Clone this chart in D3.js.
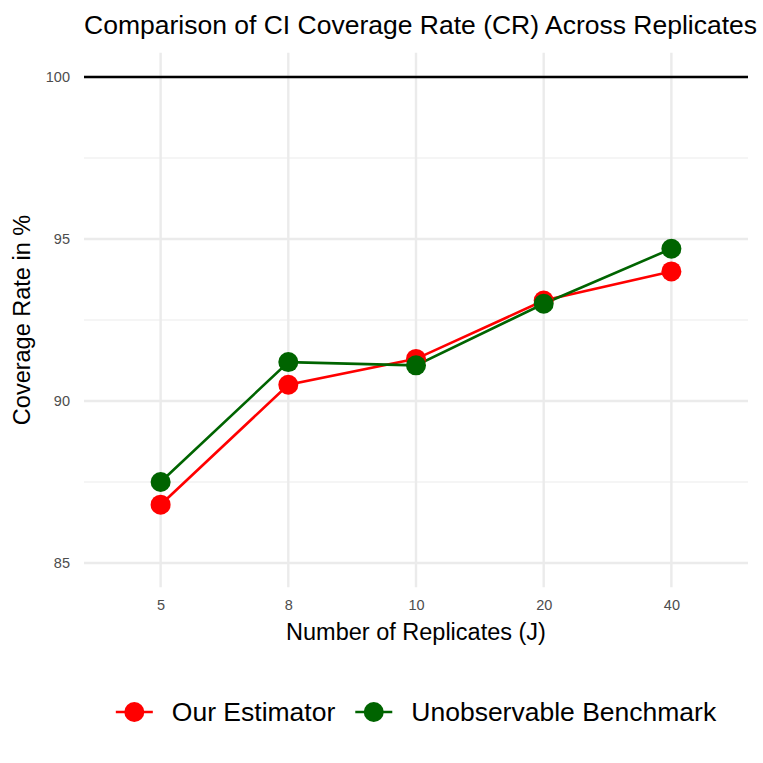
<!DOCTYPE html>
<html>
<head>
<meta charset="utf-8">
<script src="https://cdn.jsdelivr.net/npm/d3@7"></script>
<style>
  body { margin: 0; background: #fff; }
  text { font-family: "Liberation Sans", Arial, sans-serif; }
</style>
</head>
<body>
<svg width="763" height="763"></svg>
<script>
// data
const replicates = ['5', '8', '10', '20', '40'];
const ourEstimator = [86.8, 90.5, 91.3, 93.1, 94.0];
const benchmark = [87.5, 91.2, 91.1, 93.0, 94.7];
const seriesNames = ['Our Estimator', 'Unobservable Benchmark'];
const seriesColors = ['#FF0000', '#006400'];
const yTicks = [85, 90, 95, 100];
const yMinor = [87.5, 92.5, 97.5];
const refLine = 100;

const svg = d3.select('svg');

// panel box
const panel = { l: 84, r: 748, t: 52.7, b: 587.3 };

const xScale = d3.scalePoint()
    .domain(replicates)
    .range([panel.l, panel.r])
    .padding(0.6);

// limits 85..100 plus ggplot's 5% expansion
const yLo = 85, yHi = 100, ex = (yHi - yLo) * 0.05;
const yScale = d3.scaleLinear()
    .domain([yLo - ex, yHi + ex])
    .range([panel.b, panel.t]);

const series = seriesNames.map((name, i) => ({
    name: name,
    color: seriesColors[i],
    values: (i === 0 ? ourEstimator : benchmark).map((v, j) => ({ x: replicates[j], y: v }))
}));

// grid
const grid = svg.append('g');
grid.selectAll('.minor')
    .data(yMinor)
    .enter().append('line')
    .attr('x1', panel.l).attr('x2', panel.r)
    .attr('y1', d => yScale(d)).attr('y2', d => yScale(d))
    .attr('stroke', '#EBEBEB').attr('stroke-width', 1.2);
grid.selectAll('.major')
    .data(yTicks)
    .enter().append('line')
    .attr('x1', panel.l).attr('x2', panel.r)
    .attr('y1', d => yScale(d)).attr('y2', d => yScale(d))
    .attr('stroke', '#EBEBEB').attr('stroke-width', 2.4);
grid.selectAll('.vmajor')
    .data(replicates)
    .enter().append('line')
    .attr('x1', d => xScale(d)).attr('x2', d => xScale(d))
    .attr('y1', panel.t).attr('y2', panel.b)
    .attr('stroke', '#EBEBEB').attr('stroke-width', 2.4);

// axes (no domain line, no ticks)
const yAxis = svg.append('g')
    .attr('transform', `translate(${panel.l},0)`)
    .call(d3.axisLeft(yScale).tickValues(yTicks).tickSize(0).tickPadding(14));
const xAxis = svg.append('g')
    .attr('transform', `translate(0,${panel.b})`)
    .call(d3.axisBottom(xScale).tickSize(0).tickPadding(12));
[xAxis, yAxis].forEach(a => {
    a.select('.domain').remove();
    a.selectAll('text')
        .attr('fill', '#4D4D4D')
        .style('font-size', '14.5px')
        .style('font-family', '"Liberation Sans", Arial, sans-serif');
});

// reference line
svg.append('line')
    .attr('x1', panel.l).attr('x2', panel.r)
    .attr('y1', yScale(refLine)).attr('y2', yScale(refLine))
    .attr('stroke', '#000').attr('stroke-width', 2.4);

// lines then points
const line = d3.line()
    .x(d => xScale(d.x))
    .y(d => yScale(d.y));

svg.selectAll('.series-line')
    .data(series)
    .enter().append('path')
    .attr('class', 'series-line')
    .attr('d', d => line(d.values))
    .attr('fill', 'none')
    .attr('stroke', d => d.color)
    .attr('stroke-width', 2.6);

series.forEach(s => {
    svg.selectAll(null)
        .data(s.values)
        .enter().append('circle')
        .attr('cx', d => xScale(d.x))
        .attr('cy', d => yScale(d.y))
        .attr('r', 10)
        .attr('fill', s.color);
});

// titles
svg.append('text')
    .attr('x', panel.l)
    .attr('y', 34)
    .style('font-size', '26.5px')
    .attr('fill', '#000')
    .text('Comparison of CI Coverage Rate (CR) Across Replicates');

svg.append('text')
    .attr('x', (panel.l + panel.r) / 2)
    .attr('y', 640)
    .attr('text-anchor', 'middle')
    .style('font-size', '23.5px')
    .text('Number of Replicates (J)');

svg.append('text')
    .attr('transform', `translate(30,${(panel.t + panel.b) / 2}) rotate(-90)`)
    .attr('text-anchor', 'middle')
    .style('font-size', '23.5px')
    .text('Coverage Rate in %');

// legend, centred on the panel
const legend = svg.append('g');
const keyW = 37, keyGap = 19, itemGap = 20, legY = 712;
let lx = 0;
const items = series.map(s => {
    const g = legend.append('g');
    g.append('line')
        .attr('x1', 0).attr('x2', keyW)
        .attr('y1', 0).attr('y2', 0)
        .attr('stroke', s.color).attr('stroke-width', 2.6);
    g.append('circle')
        .attr('cx', keyW / 2).attr('cy', 0).attr('r', 10)
        .attr('fill', s.color);
    const t = g.append('text')
        .attr('x', keyW + keyGap)
        .attr('y', 0)
        .attr('dy', '0.35em')
        .style('font-size', '26.5px')
        .text(s.name);
    const w = keyW + keyGap + t.node().getComputedTextLength();
    const item = { g: g, x: lx };
    lx += w + itemGap;
    return item;
});
const totalW = lx - itemGap;
const lx0 = (panel.l + panel.r) / 2 - totalW / 2;
items.forEach(it => it.g.attr('transform', `translate(${lx0 + it.x},${legY})`));
</script>
</body>
</html>
